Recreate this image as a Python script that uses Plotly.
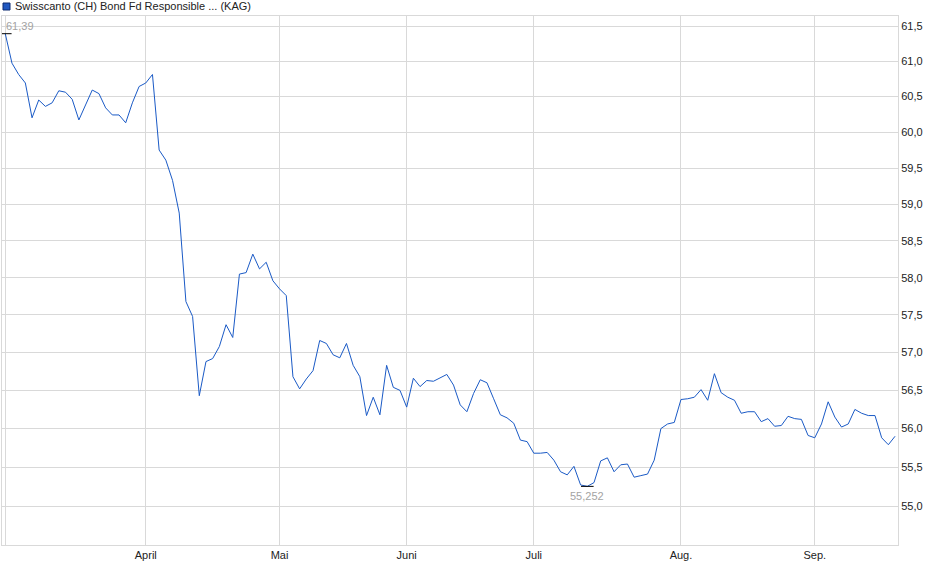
import math
import pandas as pd
import plotly.graph_objects as go

# ---------------- data ----------------
title_text = "Swisscanto (CH) Bond Fd Responsible ... (KAG)"

# trading days (Mar 3 2025 - Sep 18 2025), CH + US fund holidays excluded
start_date = "2025-03-03"
end_date = "2025-09-18"
holidays = ["2025-04-18", "2025-04-21", "2025-05-01", "2025-05-26", "2025-05-29",
            "2025-06-09", "2025-06-19", "2025-07-04", "2025-08-01", "2025-09-01"]
dates = [d.strftime("%Y-%m-%d") for d in
         pd.bdate_range(start_date, end_date, freq="C", holidays=holidays)]

prices = [
    61.39, 60.97, 60.81, 60.69, 60.20, 60.45, 60.36, 60.41, 60.58, 60.56,
    60.46, 60.17, 60.38, 60.59, 60.54, 60.34, 60.24, 60.24, 60.13, 60.41,
    60.64, 60.69, 60.81, 59.75, 59.61, 59.33, 58.88, 57.68, 57.48, 56.43,
    56.88, 56.92, 57.08, 57.37, 57.20, 58.05, 58.07, 58.32, 58.12, 58.21,
    57.96, 57.85, 57.76, 56.68, 56.52, 56.65, 56.76, 57.16, 57.12, 56.97,
    56.93, 57.12, 56.83, 56.68, 56.17, 56.41, 56.18, 56.83, 56.54, 56.50,
    56.28, 56.66, 56.55, 56.63, 56.62, 56.66, 56.71, 56.57, 56.31, 56.22,
    56.46, 56.64, 56.60, 56.39, 56.18, 56.14, 56.07, 55.85, 55.83, 55.68,
    55.68, 55.69, 55.59, 55.44, 55.40, 55.51, 55.27, 55.252, 55.30, 55.58,
    55.62, 55.44, 55.53, 55.54, 55.37, 55.39, 55.41, 55.59, 56.00, 56.06,
    56.08, 56.38, 56.39, 56.41, 56.51, 56.37, 56.72, 56.47, 56.41, 56.37,
    56.20, 56.22, 56.22, 56.09, 56.13, 56.03, 56.04, 56.16, 56.13, 56.12,
    55.91, 55.88, 56.06, 56.35, 56.15, 56.02, 56.06, 56.25, 56.20, 56.17,
    56.17, 55.88, 55.79, 55.90,
]

x_tick_dates = ["2025-03-03", "2025-04-01", "2025-05-02", "2025-06-02",
                "2025-07-01", "2025-08-04", "2025-09-02"]
x_tick_text = ["", "April", "Mai", "Juni", "Juli", "Aug.", "Sep."]

y_tick_vals = [55.0, 55.5, 56.0, 56.5, 57.0, 57.5, 58.0, 58.5, 59.0, 59.5,
               60.0, 60.5, 61.0, 61.5]
y_tick_text = ["55,0", "55,5", "56,0", "56,5", "57,0", "57,5", "58,0", "58,5",
               "59,0", "59,5", "60,0", "60,5", "61,0", "61,5"]

max_label = "61,39"
min_label = "55,252"

# ---------------- styles ----------------
FONT = "Liberation Sans, Arial, sans-serif"
LINE_COLOR = "#1a5ac6"
GRID = "#d9d9d9"
TXT = "#222222"
NOTE = "#a3a3a3"

i_max = prices.index(max(prices))
i_min = prices.index(min(prices))

fig = go.Figure()
fig.add_trace(go.Scatter(
    x=dates, y=prices, mode="lines",
    line=dict(color=LINE_COLOR, width=1),
    showlegend=False, hoverinfo="x+y",
))
fig.add_trace(go.Scatter(
    x=[dates[i_max], dates[i_min]], y=[prices[i_max], prices[i_min]],
    mode="markers",
    marker=dict(symbol="line-ew", size=9, color="#000000",
                line=dict(color="#000000", width=1)),
    showlegend=False, hoverinfo="skip",
))

fig.update_layout(
    width=940, height=579,
    margin=dict(l=2, r=42, t=16, b=34),
    paper_bgcolor="#ffffff", plot_bgcolor="#ffffff",
    font=dict(family=FONT, size=11, color=TXT),
    showlegend=False,
    xaxis=dict(
        type="category", categoryorder="array", categoryarray=dates,
        range=[-0.49, 133.44],
        tickmode="array", tickvals=x_tick_dates, ticktext=x_tick_text,
        showgrid=True, gridcolor=GRID, gridwidth=1,
        showline=True, mirror=True, linecolor=GRID, linewidth=1,
        ticks="", zeroline=False,
        tickfont=dict(family=FONT, size=11, color=TXT),
    ),
    yaxis=dict(
        type="log", side="right",
        range=[1.736421, 1.789886],
        tickmode="array", tickvals=y_tick_vals, ticktext=y_tick_text,
        showgrid=True, gridcolor=GRID, gridwidth=1,
        showline=True, mirror=True, linecolor=GRID, linewidth=1,
        ticks="", zeroline=False,
        tickfont=dict(family=FONT, size=11, color=TXT),
    ),
    annotations=[
        dict(text=title_text, xref="paper", yref="paper", x=0, y=1,
             xanchor="left", yanchor="middle", xshift=11, yshift=10,
             showarrow=False, font=dict(family=FONT, size=11, color=TXT)),
        dict(text=max_label, xref="x", yref="y", x=dates[i_max],
             y=math.log10(prices[i_max]), xanchor="left", yanchor="middle",
             xshift=-1, yshift=8, showarrow=False,
             font=dict(family=FONT, size=11, color=NOTE)),
        dict(text=min_label, xref="x", yref="y", x=dates[i_min],
             y=math.log10(prices[i_min]), xanchor="center", yanchor="middle",
             xshift=0, yshift=-10, showarrow=False,
             font=dict(family=FONT, size=11, color=NOTE)),
    ],
    shapes=[
        dict(type="rect", xref="paper", yref="paper",
             xsizemode="pixel", ysizemode="pixel", xanchor=0, yanchor=1,
             x0=1, x1=8, y0=6, y1=13,
             fillcolor="#2158c0", line=dict(color="#0c2b70", width=1)),
    ],
)

fig.write_html("out.html",
               config={"displayModeBar": False},
               post_script="document.body.style.margin='0';document.body.style.overflow='hidden';")
